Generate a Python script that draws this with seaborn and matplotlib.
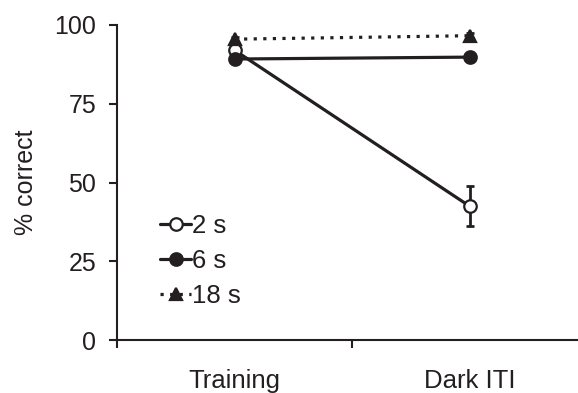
import numpy as np
import pandas as pd
import matplotlib
matplotlib.use('Agg')
import matplotlib.pyplot as plt
import seaborn as sns

sns.set_style('ticks')
plt.rcParams['font.family'] = ['Liberation Sans', 'DejaVu Sans']
INK = '#231f20'

# ---------------------------------------------------------------
# Data
# ---------------------------------------------------------------
phases = ['Training', 'Dark ITI']
delays = ['2 s', '6 s', '18 s']
pct_2s = [92.0, 42.5]
pct_6s = [89.2, 89.8]
pct_18s = [95.5, 96.6]
sem_2s = [1.5, 6.3]
sem_6s = [1.0, 1.0]
sem_18s = [0.8, 0.8]

df = pd.DataFrame({
    'phase': phases * 3,
    'delay': np.repeat(delays, len(phases)),
    'pct': pct_2s + pct_6s + pct_18s,
    'sem': sem_2s + sem_6s + sem_18s,
})

styles = {
    '2 s': dict(marker='o', mfc='white', ls='-'),
    '6 s': dict(marker='o', mfc=INK, ls='-'),
    '18 s': dict(marker='^', mfc=INK, ls=(0, (1, 2))),
}

fig = plt.figure(figsize=(5.78, 3.93), dpi=100)
ax = fig.add_axes([117 / 578, 53 / 393, 461 / 578, 315 / 393])

for d in delays:
    sub = df[df['delay'] == d]
    st = styles[d]
    ax.errorbar(np.arange(len(phases)), sub['pct'], yerr=sub['sem'], fmt='none',
                ecolor=INK, elinewidth=2, capsize=3, capthick=2, zorder=2)
    sns.lineplot(data=sub, x='phase', y='pct', ax=ax, color=INK, lw=2.3,
                 marker=st['marker'], markersize=9, markerfacecolor=st['mfc'],
                 markeredgecolor=INK, markeredgewidth=1.6, linestyle=st['ls'],
                 label=d, zorder=3, sort=False)

ax.set_xlim(-0.5, -0.5 + 461 / 235)
ax.set_ylim(0, 100)
ax.set_yticks([0, 25, 50, 75, 100])
ax.set_xticks([-0.5, 0.5])
ax.set_xticklabels(['', ''])
ax.set_xticks([0, 1], minor=True)
ax.set_xticklabels(phases, minor=True)
ax.tick_params(axis='x', which='minor', length=0, pad=21, labelsize=18.5, labelcolor=INK)
ax.tick_params(axis='both', which='major', direction='out', length=6, width=1.5,
               color=INK, labelsize=18, labelcolor=INK, pad=9)
ax.set_xlabel('')
ax.set_ylabel('% correct', fontsize=18, color=INK, labelpad=12)

sns.despine(ax=ax)
for s in ['left', 'bottom']:
    ax.spines[s].set_color(INK)
    ax.spines[s].set_linewidth(1.5)

leg = ax.legend(loc='lower left', bbox_to_anchor=(0.066, 0.062), frameon=False,
                fontsize=18.5, handlelength=1.2, handletextpad=0.05, labelspacing=0.42,
                borderpad=0, labelcolor=INK)

plt.savefig('out.png', dpi=100)
plt.close()
